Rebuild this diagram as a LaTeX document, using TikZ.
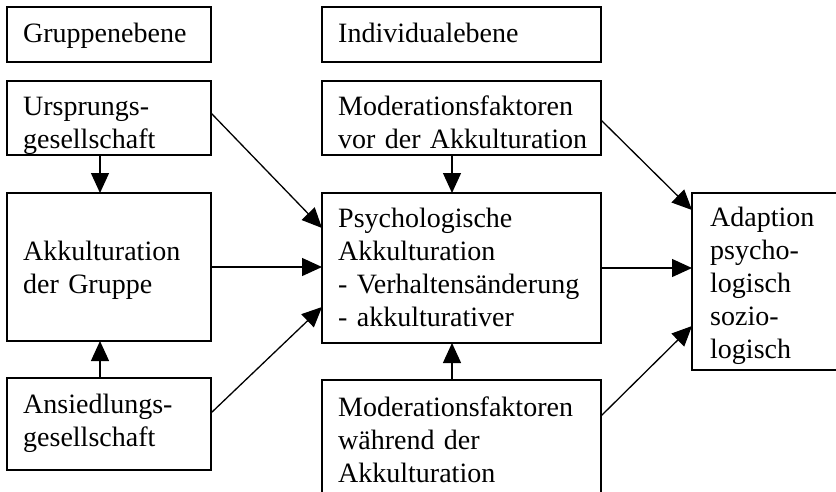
\documentclass[tikz,border=0pt]{standalone}
\usepackage{fontspec}
\setmainfont{Liberation Serif}
\usetikzlibrary{arrows.meta}

\begin{document}
\begin{tikzpicture}[x=1pt, y=-1pt,
  box/.style={draw, line width=1.3pt, anchor=north west, inner sep=0pt, outer sep=0pt},
  txt/.style={anchor=base west, inner sep=0pt, text width=300pt, align=left, font=\fontsize{28pt}{33pt}\selectfont},
  arr/.style={line width=1.3pt, -{Triangle[length=20pt, width=18pt]}}]
\useasboundingbox (0,0) rectangle (836,491);

\node[box, minimum width=204pt, minimum height=55pt] (grp) at (7,7) {};
\node[box, minimum width=204pt, minimum height=74pt] (urs) at (7,81) {};
\node[box, minimum width=204pt, minimum height=148pt] (akk) at (7,193) {};
\node[box, minimum width=204pt, minimum height=92pt] (ans) at (7,378) {};

\node[box, minimum width=279pt, minimum height=55pt] (ind) at (322,7) {};
\node[box, minimum width=279pt, minimum height=74pt] (modvor) at (322,81) {};
\node[box, minimum width=279pt, minimum height=150pt] (psych) at (322,193) {};
\node[box, minimum width=279pt, minimum height=140pt] (modwae) at (322,380) {};

\node[box, minimum width=200pt, minimum height=177pt] (adapt) at (692,193) {};

\node[txt] (grpText) at (23,42) {Gruppenebene};
\node[txt] (ursText) at (23,115.7) {Ursprungs-\\gesellschaft};
\node[txt] (akkText) at (23,260) {Akkulturation\\der Gruppe};
\node[txt] (ansText) at (23,413) {Ansiedlungs-\\gesellschaft};

\node[txt] (indText) at (338,42) {Individualebene};
\node[txt] (modvorText) at (338,115.7) {Moderationsfaktoren\\vor der Akkulturation};
\node[txt] (psychText) at (338,227) {Psychologische\\Akkulturation\\- Verhaltensänderung\\- akkulturativer};
\node[txt] (modwaeText) at (338,416) {Moderationsfaktoren\\während der\\Akkulturation};

\node[txt] (adaptText) at (710,226) {Adaption\\psycho-\\logisch\\sozio-\\logisch};

% arrows
\draw[arr] ([xshift=-9pt]urs.south) -- ([xshift=-9pt]akk.north);
\draw[arr] ([xshift=-9pt]ans.north) -- ([xshift=-9pt]akk.south);
\draw[arr] ([yshift=-32pt]urs.north east) -- ([yshift=-35pt]psych.north west);
\draw[arr] (akk.east) -- (akk.east -| psych.west);
\draw[arr] ([yshift=-35pt]ans.north east) -- ([yshift=36pt]psych.south west);
\draw[arr] ([xshift=-9.5pt]modvor.south) -- ([xshift=-9.5pt]psych.north);
\draw[arr] ([xshift=-9.5pt]modwae.north) -- ([xshift=-9.5pt]psych.south);
\draw[arr] ([yshift=-39pt]modvor.north east) -- ([yshift=-17pt]adapt.north west);
\draw[arr] (psych.east) -- (psych.east -| adapt.west);
\draw[arr] ([yshift=-36pt]modwae.north east) -- ([yshift=44pt]adapt.south west);
\end{tikzpicture}
\end{document}
